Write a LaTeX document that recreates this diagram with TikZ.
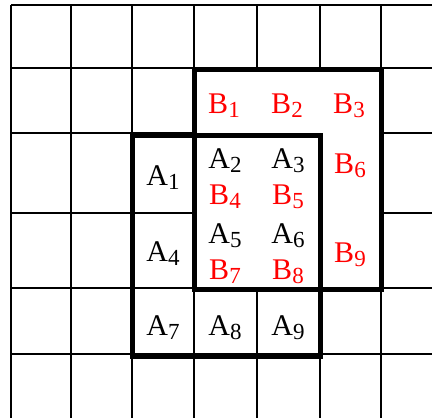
\documentclass[tikz,border=0pt]{standalone}
\usepackage{fontspec}
\setmainfont{Liberation Serif}
\usetikzlibrary{positioning}

\newcommand{\cellname}[2]{#1\raisebox{-4pt}{\fontsize{23}{23}\selectfont #2}}

\begin{document}
\begin{tikzpicture}[
		x=1pt, y=-1pt,
		gridline/.style={line width=2pt, draw=black},
		boxline/.style={line width=5pt, draw=black},
		alabel/.style={font=\fontsize{30}{36}\selectfont, text=black, inner sep=0pt, anchor=base},
		blabel/.style={alabel, text=red}
	]

	\useasboundingbox (0,0) rectangle (432,418);

	% thin grid
	\foreach \x in {11,71,132,194,257,320,381}
		\draw[gridline] (\x,5) -- (\x,418);
	\foreach \y in {5,68,133,213,288,354}
		\draw[gridline] (11,\y) -- (432,\y);

	% inside of the B window has no grid
	\fill[white] (196,70) rectangle (379,288);

	% the two windows
	\draw[boxline] (194,69) rectangle (381,289);
	\draw[boxline] (132,135) rectangle (320,356);

	% B labels
	\node[blabel] (b1) at (224,113) {\cellname{B}{1}};
	\node[blabel] (b2) at (287,113) {\cellname{B}{2}};
	\node[blabel] (b3) at (349,113) {\cellname{B}{3}};
	\node[blabel] (b4) at (225,204) {\cellname{B}{4}};
	\node[blabel] (b5) at (288,204) {\cellname{B}{5}};
	\node[blabel] (b6) at (350,173) {\cellname{B}{6}};
	\node[blabel] (b7) at (225,279) {\cellname{B}{7}};
	\node[blabel] (b8) at (288,279) {\cellname{B}{8}};
	\node[blabel] (b9) at (350,262) {\cellname{B}{9}};

	% A labels
	\node[alabel] (a1) at (163,185) {\cellname{A}{1}};
	\node[alabel] (a2) at (225,168) {\cellname{A}{2}};
	\node[alabel] (a3) at (288,168) {\cellname{A}{3}};
	\node[alabel] (a4) at (163,261) {\cellname{A}{4}};
	\node[alabel] (a5) at (225,243) {\cellname{A}{5}};
	\node[alabel] (a6) at (288,243) {\cellname{A}{6}};
	\node[alabel] (a7) at (163,335) {\cellname{A}{7}};
	\node[alabel] (a8) at (225,335) {\cellname{A}{8}};
	\node[alabel] (a9) at (288,335) {\cellname{A}{9}};

\end{tikzpicture}
\end{document}
